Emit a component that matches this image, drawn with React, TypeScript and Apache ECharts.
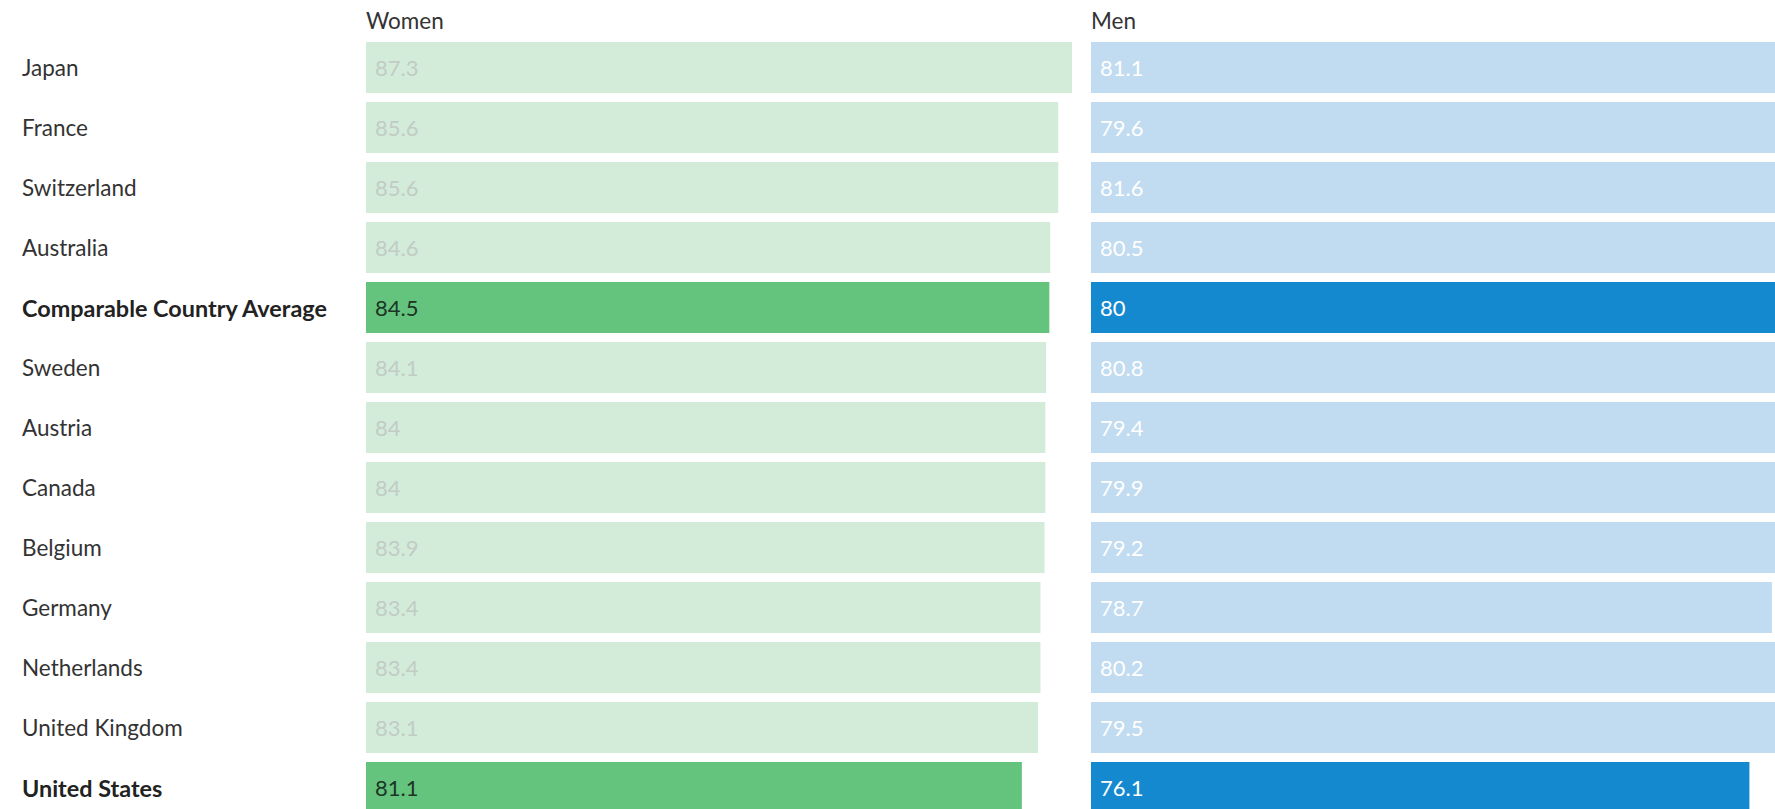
import React, { useEffect, useRef } from "react";
import * as echarts from "echarts";

const categories = [
  "Japan",
  "France",
  "Switzerland",
  "Australia",
  "Comparable Country Average",
  "Sweden",
  "Austria",
  "Canada",
  "Belgium",
  "Germany",
  "Netherlands",
  "United Kingdom",
  "United States",
];
const women = [87.3, 85.6, 85.6, 84.6, 84.5, 84.1, 84, 84, 83.9, 83.4, 83.4, 83.1, 81.1];
const men = [81.1, 79.6, 81.6, 80.5, 80, 80.8, 79.4, 79.9, 79.2, 78.7, 80.2, 79.5, 76.1];
const highlighted = ["Comparable Country Average", "United States"];
const panelTitles = ["Women", "Men"];

const FONT = "Lato";

export default function App() {
  const ref = useRef<HTMLDivElement>(null);

  useEffect(() => {
    document.documentElement.style.overflow = "hidden";
    const chart = echarts.init(ref.current!, null, { renderer: "svg" });

    const isHi = (i: number) => highlighted.includes(categories[i]);

    const gridTop = 29.5;
    const gridHeight = 780;
    const leftA = 358;
    const leftB = 1083;
    const panelW = 706;

    const mk = (vals: number[], light: string, dark: string, lightText: string, darkText: string, idx: number) => ({
      type: "bar",
      xAxisIndex: idx,
      yAxisIndex: idx,
      barCategoryGap: "15%",
      data: vals.map((v, i) => ({
        value: v,
        itemStyle: { color: isHi(i) ? dark : light },
        label: { color: isHi(i) ? darkText : lightText },
      })),
      label: {
        show: true,
        position: "insideLeft",
        distance: 9,
        fontFamily: FONT,
        fontSize: 22,
        formatter: (p: any) => String(p.value),
      },
      silent: true,
    });

    chart.setOption({
      animation: false,
      graphic: panelTitles.map((t, i) => ({
        type: "text",
        left: i === 0 ? leftA : leftB,
        top: 1,
        style: {
          text: t,
          fontFamily: FONT,
          fontSize: 22.5,
          fill: "#333333",
        },
      })),
      grid: [
        { left: leftA, top: gridTop, width: panelW, height: gridHeight },
        { left: leftB, top: gridTop, width: panelW, height: gridHeight },
      ],
      xAxis: [
        { type: "value", gridIndex: 0, min: 0, max: Math.max(...women), show: false },
        { type: "value", gridIndex: 1, min: 0, max: Math.max(...men), show: false },
      ],
      yAxis: [
        {
          type: "category",
          gridIndex: 0,
          data: categories,
          inverse: true,
          axisLine: { show: false },
          axisTick: { show: false },
          splitLine: { show: false },
          axisLabel: {
            align: "left",
            margin: 344,
            formatter: (v: string) => (highlighted.includes(v) ? `{b|${v}}` : `{n|${v}}`),
            rich: {
              n: { fontFamily: FONT, fontSize: 22.5, color: "#333333" },
              b: { fontFamily: FONT, fontSize: 23.4, fontWeight: "bold", color: "#222222" },
            },
          },
        },
        {
          type: "category",
          gridIndex: 1,
          data: categories,
          inverse: true,
          show: false,
        },
      ],
      series: [
        mk(women, "#d3ecda", "#64c47d", "#c2cbc4", "#1d3526", 0),
        mk(men, "#c1dbf0", "#1589d0", "#ffffff", "#ffffff", 1),
      ],
    });

    return () => chart.dispose();
  }, []);

  return (
    <div
      style={{
        position: "fixed",
        left: 0,
        top: 0,
        width: "100vw",
        height: "100vh",
        overflow: "hidden",
        background: "#ffffff",
      }}
    >
      <div ref={ref} style={{ position: "absolute", left: 8, top: 8, width: 1800, height: 820 }} />
    </div>
  );
}
